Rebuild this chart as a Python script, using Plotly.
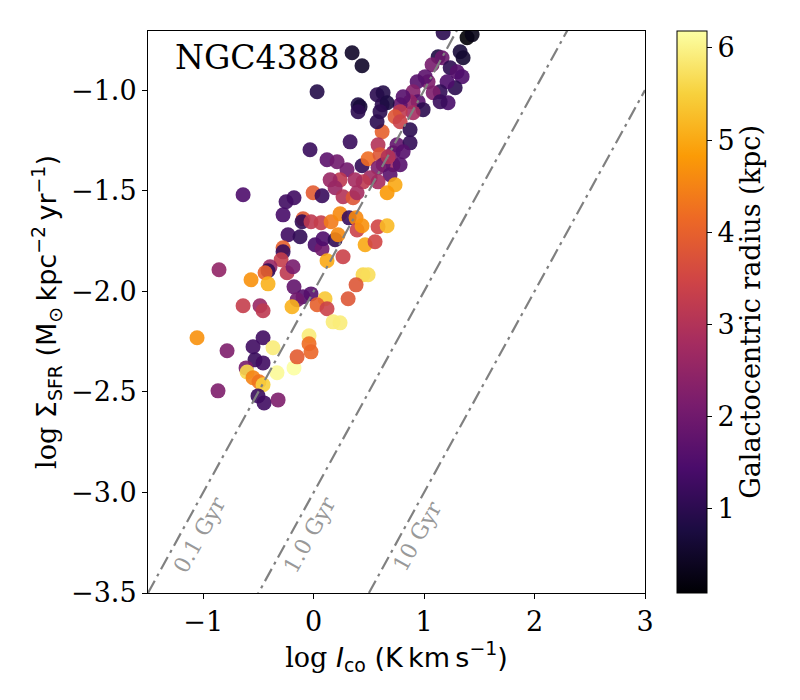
import plotly.graph_objects as go

# log I_co (K km s^-1), log Sigma_SFR (Msun kpc^-2 yr^-1), galactocentric radius (kpc)
log_ico = [
    0.348, 0.438, 0.031, 1.172, 1.389, 1.435, 1.326, 1.353, 1.127, 1.072,
    1.163, 1.236, 1.299, 1.344, 1.281, 1.208, 1.145, 1.082, 1.217, 1.145,
    1.036, 1.009, 0.937, 0.900, 0.946, 0.873, 0.783, 0.810, 0.991, 0.900,
    0.783, 0.737, 0.783, 0.873, 0.620, 0.574, 0.629, 0.620, 0.665, 0.402,
    0.420, 0.402, 0.601, 0.574, 0.330, -0.033, 0.121, 0.212, 0.302, 0.438,
    0.493, 0.583, 0.601, 0.719, 0.755, 0.873, 0.810, 0.719, 0.629, 0.783,
    0.674, 0.583, 0.692, 0.583, 0.511, 0.447, 0.375, 0.239, 0.149, 0.194,
    0.266, 0.357, 0.393, -0.005, 0.076, -0.178, -0.250, -0.277, -0.639, 0.737,
    0.665, -0.096, -0.105, -0.024, 0.067, 0.158, 0.239, 0.321, 0.384, 0.393,
    0.438, 0.583, 0.665, -0.232, -0.123, 0.013, 0.076, 0.085, 0.194, 0.221,
    0.466, 0.556, 0.121, 0.266, -0.277, -0.277, -0.295, -0.395, -0.413, -0.440,
    -0.241, -0.187, -0.567, -0.413, -0.857, 0.447, 0.493, 0.384, -0.178, -0.024,
    -0.096, -0.150, -0.196, 0.103, 0.031, 0.121, 0.312, -0.639, -0.486, -0.458,
    0.176, 0.239, -1.056, -0.784, -0.458, -0.549, -0.368, -0.531, -0.458, -0.612,
    -0.603, -0.332, -0.178, -0.150, -0.042, -0.042, -0.024, -0.549, -0.495, -0.458,
    -0.866, -0.504, -0.449, -0.322,
]
log_sfr = [
    -0.814, -0.879, -1.008, -0.715, -0.739, -0.724, -0.809, -0.839, -0.834, -0.874,
    -0.839, -0.889, -0.909, -0.933, -0.988, -0.958, -1.008, -1.013, -1.063, -1.058,
    -0.958, -0.933, -0.958, -1.008, -1.058, -1.058, -1.073, -1.033, -1.097, -1.112,
    -1.107, -1.132, -1.157, -1.197, -1.207, -1.023, -1.013, -1.073, -1.063, -1.073,
    -1.083, -1.107, -1.107, -1.157, -1.257, -1.296, -1.346, -1.356, -1.396, -1.376,
    -1.341, -1.272, -1.321, -1.311, -1.272, -1.262, -1.306, -1.371, -1.371, -1.371,
    -1.331, -1.386, -1.421, -1.456, -1.436, -1.456, -1.446, -1.446, -1.446, -1.485,
    -1.530, -1.535, -1.510, -1.510, -1.525, -1.535, -1.555, -1.620, -1.520, -1.470,
    -1.510, -1.640, -1.654, -1.654, -1.659, -1.654, -1.615, -1.635, -1.635, -1.695,
    -1.674, -1.679, -1.674, -1.719, -1.729, -1.769, -1.789, -1.739, -1.744, -1.719,
    -1.769, -1.754, -1.848, -1.828, -1.784, -1.804, -1.843, -1.878, -1.898, -1.908,
    -1.908, -1.878, -1.943, -1.963, -1.893, -1.918, -1.918, -1.968, -1.978, -2.013,
    -2.027, -2.042, -2.077, -2.037, -2.067, -2.087, -2.037, -2.072, -2.072, -2.097,
    -2.152, -2.157, -2.231, -2.296, -2.231, -2.276, -2.281, -2.341, -2.356, -2.381,
    -2.401, -2.405, -2.381, -2.326, -2.221, -2.261, -2.301, -2.430, -2.450, -2.465,
    -2.495, -2.520, -2.555, -2.540,
]
radius = [
    0.5, 0.5, 0.9, 1.0, 0.09, 0.3, 0.7, 0.6, 0.8, 2.1,
    1.9, 1.0, 1.6, 1.5, 1.0, 1.5, 1.1, 2.2, 1.4, 1.2,
    2.2, 1.7, 1.6, 2.3, 1.6, 2.5, 1.8, 1.6, 1.0, 2.8,
    3.2, 3.8, 3.4, 1.0, 4.0, 1.0, 0.9, 1.0, 0.8, 0.8,
    0.7, 1.0, 1.0, 1.0, 1.2, 1.2, 1.7, 2.0, 2.0, 1.1,
    4.2, 3.0, 3.8, 2.0, 1.8, 1.1, 1.6, 2.7, 1.8, 1.6,
    3.0, 2.2, 1.7, 2.8, 2.7, 3.2, 2.8, 3.2, 2.6, 2.6,
    3.0, 3.8, 2.8, 3.9, 1.2, 1.3, 1.3, 1.4, 1.5, 5.0,
    4.8, 3.9, 1.1, 3.2, 3.3, 4.4, 4.6, 1.2, 4.6, 3.4,
    4.7, 3.5, 5.2, 1.3, 1.1, 1.4, 2.0, 1.5, 1.1, 4.6,
    5.0, 3.5, 5.0, 3.4, 4.0, 1.2, 3.3, 2.6, 1.1, 4.0,
    3.2, 2.1, 4.7, 5.1, 2.5, 5.6, 5.7, 3.8, 1.8, 1.6,
    1.6, 2.0, 5.1, 5.4, 4.0, 3.4, 3.8, 3.3, 2.6, 3.2,
    5.9, 5.9, 4.7, 2.2, 1.3, 1.3, 5.9, 1.2, 1.3, 2.1,
    5.6, 6.1, 6.18, 3.9, 5.9, 4.2, 4.1, 4.5, 4.3, 5.5,
    2.2, 1.2, 1.3, 2.2,
]

# constant depletion time lines: log SFR = log Ico + offset
tdep_labels = ["0.1 Gyr", "1.0 Gyr", "10 Gyr"]
tdep_offsets = [-2.0, -3.0, -4.0]
line_x = [-1.5, 3.0]
label_pos = [(-1.038, -3.212), (-0.042, -3.212), (0.934, -3.217)]

serif = "DejaVu Serif"
sans = "DejaVu Sans"
thin = "\u2009"

fig = go.Figure()

fig.add_trace(go.Scatter(
    x=log_ico, y=log_sfr, mode="markers",
    marker=dict(
        size=15, color=radius, colorscale="Inferno", cmin=0.088, cmax=6.184,
        opacity=0.9, line=dict(width=0),
        colorbar=dict(
            x=1.064, xanchor="left", xpad=0, ypad=0,
            y=0.5, yanchor="middle", len=1, lenmode="fraction",
            thickness=30, outlinecolor="black", outlinewidth=1,
            tickvals=[1, 2, 3, 4, 5, 6], ticks="outside", ticklen=5,
            tickwidth=1, tickcolor="black",
            tickfont=dict(family=serif, size=27, color="black"),
        ),
    ),
    showlegend=False, hoverinfo="skip",
))

for off in tdep_offsets:
    fig.add_trace(go.Scatter(
        x=line_x, y=[v + off for v in line_x], mode="lines",
        line=dict(color="gray", width=2.2, dash="14px,5px,3px,5px"),
        showlegend=False, hoverinfo="skip",
    ))

for txt, (lx, ly) in zip(tdep_labels, label_pos):
    fig.add_annotation(x=lx, y=ly, text=txt, showarrow=False, textangle=-61,
                       font=dict(family=serif, size=22, color="#999999"))

fig.add_annotation(xref="paper", yref="paper", x=0.051, y=0.952,
                   xanchor="left", yanchor="middle", text="NGC4388",
                   showarrow=False, font=dict(family=serif, size=33, color="black"))

# colourbar label, placed by hand
fig.add_annotation(xref="paper", yref="paper", x=1.211, y=0.5,
                   xanchor="center", yanchor="middle", textangle=-90,
                   text="Galactocentric radius (kpc)", showarrow=False,
                   font=dict(family=serif, size=27, color="black"))

axis_common = dict(
    showline=True, linecolor="black", linewidth=1, mirror=True,
    ticks="outside", ticklen=5, tickwidth=1, tickcolor="black",
    showgrid=False, zeroline=False,
    tickfont=dict(family=serif, size=27, color="black"),
)

fig.update_xaxes(
    range=[-1.5, 3.0], tickvals=[-1, 0, 1, 2, 3],
    ticktext=["\u22121", "0", "1", "2", "3"],
    title=dict(
        text='<span style="font-family:DejaVu Serif">log</span> <i>I</i><sub>co</sub> (K' + thin + 'km' + thin + 's<sup>\u22121</sup>)',
        font=dict(family=sans, size=27, color="black"), standoff=10),
    **axis_common,
)
fig.update_yaxes(
    range=[-3.5, -0.706], tickvals=[-3.5, -3.0, -2.5, -2.0, -1.5, -1.0],
    ticktext=["\u22123.5", "\u22123.0", "\u22122.5", "\u22122.0", "\u22121.5", "\u22121.0"],
    title=dict(
        text='<span style="font-family:DejaVu Serif">log</span> \u03a3<sub>SFR</sub> (M<sub>\u2299</sub>' + thin + 'kpc<sup>\u22122</sup>' + thin + 'yr<sup>\u22121</sup>)',
        font=dict(family=sans, size=27, color="black"), standoff=6),
    **axis_common,
)

# page has an 8px body margin, so the figure is shifted by that much
fig.update_layout(
    width=800, height=700,
    margin=dict(l=140, r=163, t=23, b=115, autoexpand=False),
    paper_bgcolor="white", plot_bgcolor="white",
)

fig.write_html("out.html")
